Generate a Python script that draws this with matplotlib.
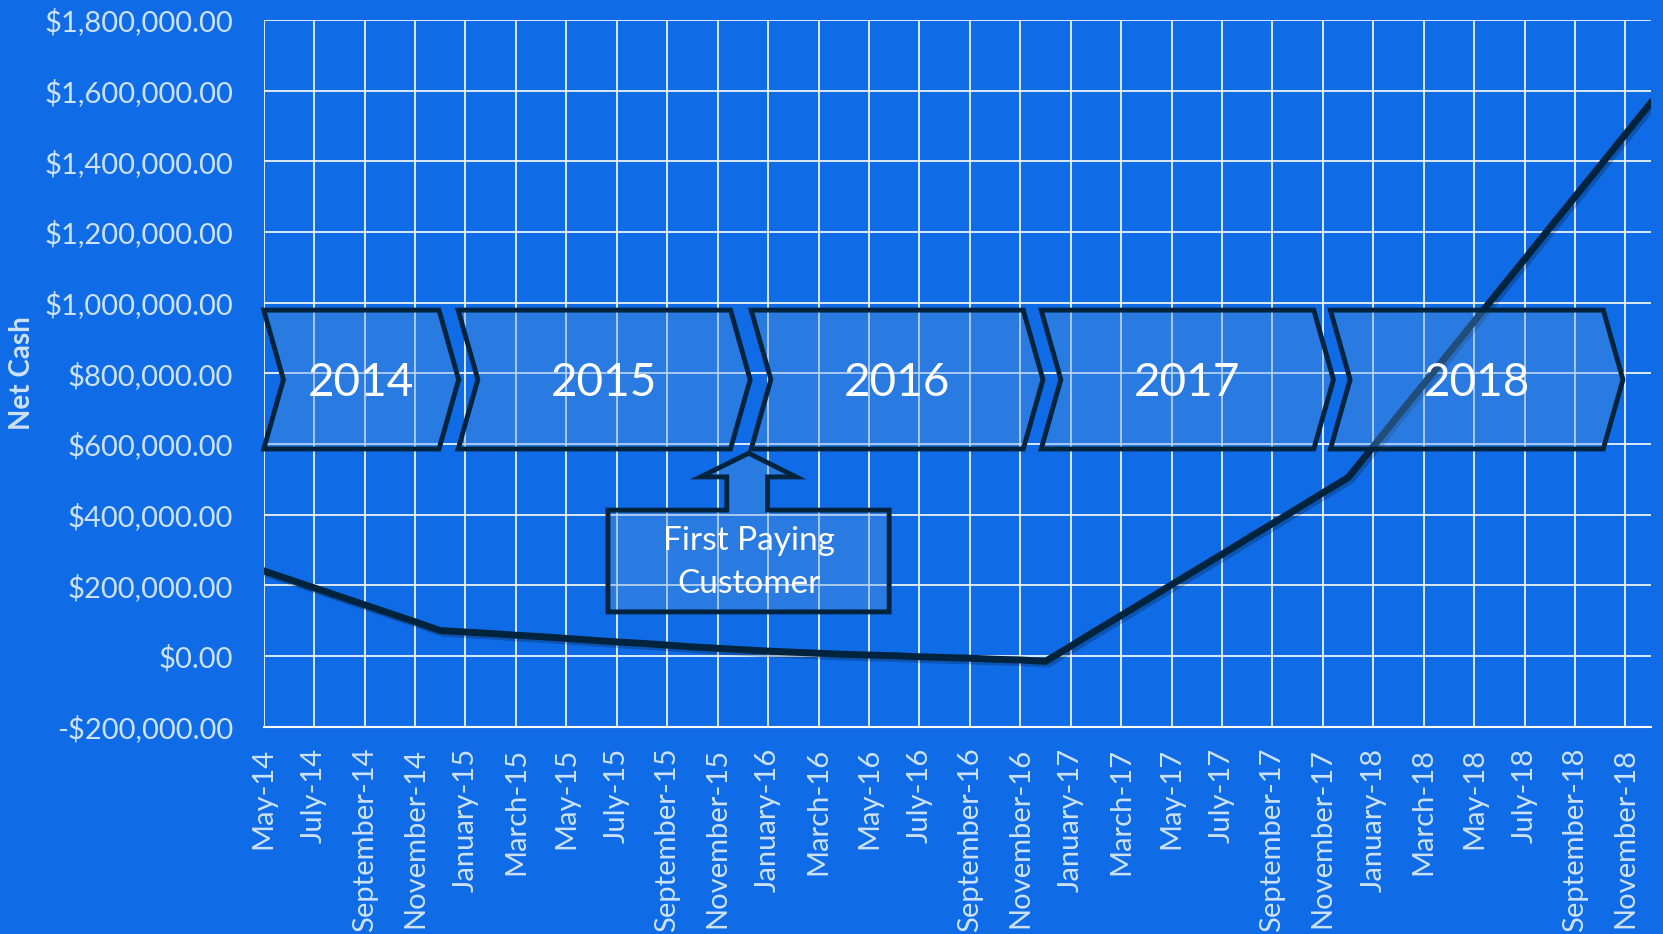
import matplotlib
matplotlib.use('Agg')
import matplotlib.pyplot as plt
import matplotlib.patheffects as pe
from matplotlib.patches import Polygon
from matplotlib.ticker import FuncFormatter, MultipleLocator

# Net cash at month end, May-14 .. Dec-18 (one value per month)
net_cash = [241000, 217000, 193000, 169000, 145000, 121000, 97000, 72000,
            68000, 64000, 59000, 55000, 50000, 45000, 40000, 36000, 31000, 26000, 22000, 18000,
            14000, 11000, 8000, 5000, 3000, 1000, -2000, -4000, -6000, -9000, -11000, -15000,
            28000, 72000, 115000, 158000, 202000, 245000, 288000, 332000, 375000, 418000, 462000, 505000,
            593000, 682000, 770000, 858000, 947000, 1035000, 1123000, 1212000, 1300000, 1388000, 1477000, 1565000]

tick_labels = ['May-14', 'July-14', 'September-14', 'November-14',
               'January-15', 'March-15', 'May-15', 'July-15', 'September-15', 'November-15',
               'January-16', 'March-16', 'May-16', 'July-16', 'September-16', 'November-16',
               'January-17', 'March-17', 'May-17', 'July-17', 'September-17', 'November-17',
               'January-18', 'March-18', 'May-18', 'July-18', 'September-18', 'November-18']

# timeline chevrons (month positions on the x axis)
years = ['2014', '2015', '2016', '2017', '2018']
year_start = [0, 7.71, 19.33, 30.83, 42.3]
year_end = [6.95, 18.51, 30.12, 41.64, 53.12]
band_lo, band_hi = 586000, 979000
notch = 0.78

bg = '#0F6CE6'
navy = '#00243D'
txt = '#CDE2F9'
fill = (86 / 255, 146 / 255, 219 / 255, 0.38)

plt.rcParams['font.family'] = ['Lato', 'DejaVu Sans']

fig = plt.figure(figsize=(16.63, 9.34), dpi=100, facecolor=bg)
ax = fig.add_axes([0.1586, 0.2219, 0.9926 - 0.1586, 0.9786 - 0.2219])
ax.set_facecolor(bg)

months = list(range(len(net_cash)))
ax.plot(months, net_cash, color=navy, linewidth=5, solid_joinstyle='miter', zorder=3,
        path_effects=[pe.SimpleLineShadow(offset=(2, -2), shadow_color='black', alpha=0.22),
                      pe.Normal()])

ax.set_xlim(0, len(net_cash) - 1)
ax.set_ylim(-200000, 1800000)
ax.set_xticks(months[::2])
ax.set_xticklabels(tick_labels, rotation=90, color=txt, fontsize=21)
ax.yaxis.set_major_locator(MultipleLocator(200000))
ax.yaxis.set_major_formatter(FuncFormatter(
    lambda v, p: ('-$' if v < 0 else '$') + '{:,.2f}'.format(abs(v))))
ax.tick_params(axis='y', length=0, pad=22, labelcolor=txt, labelsize=21)
ax.tick_params(axis='x', length=0, pad=15)
ax.grid(True, color='white', linewidth=1.2)
ax.set_axisbelow(True)
for s in ['top', 'right', 'left']:
    ax.spines[s].set_visible(False)
ax.spines['bottom'].set_color('white')
ax.spines['bottom'].set_linewidth(1.5)

mid = (band_lo + band_hi) / 2
for yr, x0, x1 in zip(years, year_start, year_end):
    pts = [(x0, band_hi), (x1, band_hi), (x1 + notch, mid), (x1, band_lo),
           (x0, band_lo), (x0 + notch, mid)]
    ax.add_patch(Polygon(pts, closed=True, facecolor=fill, edgecolor=navy,
                         linewidth=3.5, joinstyle='miter', zorder=4, clip_on=False))
    ax.text((x0 + x1 + notch) / 2, mid - 10000, yr, color='white', fontsize=33,
            ha='center', va='center', zorder=5)

# callout box with arrow
box_x0, box_x1 = 13.65, 24.8
box_lo, box_hi = 125000, 413000
shaft_x0, shaft_x1 = 18.36, 19.98
head_x0, head_x1 = 17.32, 21.11
head_base, tip_x, tip_y = 507000, 19.23, 574000
callout = [(box_x0, box_lo), (box_x1, box_lo), (box_x1, box_hi), (shaft_x1, box_hi),
           (shaft_x1, head_base), (head_x1, head_base), (tip_x, tip_y),
           (head_x0, head_base), (shaft_x0, head_base), (shaft_x0, box_hi), (box_x0, box_hi)]
ax.add_patch(Polygon(callout, closed=True, facecolor=fill, edgecolor=navy,
                     linewidth=3.5, joinstyle='miter', zorder=4))
ax.text(tip_x, (box_lo + box_hi) / 2 - 5000, 'First Paying\nCustomer', color='white', fontsize=24,
        ha='center', va='center', linespacing=1.55, zorder=5)

fig.text(0.013, 0.6006, 'Net Cash', rotation=90, color=txt, fontsize=20,
         fontweight='bold', ha='center', va='center')

fig.savefig('out.png', dpi=100, facecolor=bg)
